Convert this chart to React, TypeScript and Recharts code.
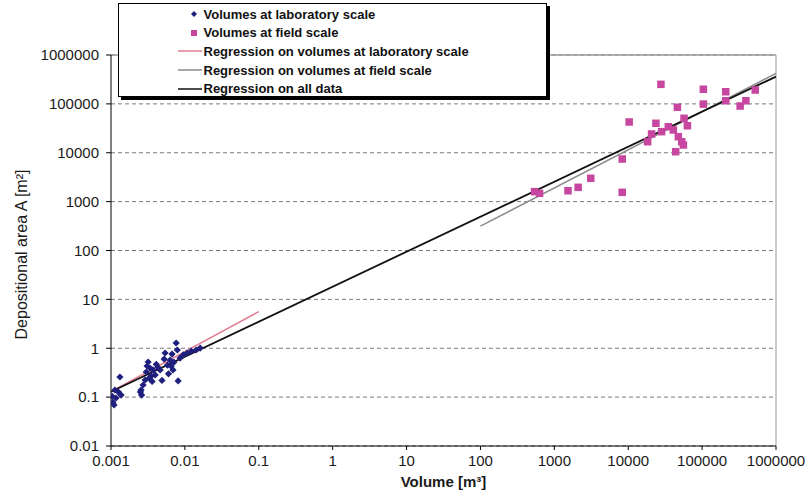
import React from "react";
import {
  ScatterChart,
  Scatter,
  XAxis,
  YAxis,
  CartesianGrid,
  ReferenceLine,
  Legend,
} from "recharts";

const xTicks = [0.001, 0.01, 0.1, 1, 10, 100, 1000, 10000, 100000, 1000000];
const yTicks = [0.01, 0.1, 1, 10, 100, 1000, 10000, 100000, 1000000];

const labVolumes = [
  0.00106, 0.0011, 0.00117, 0.00126, 0.00132, 0.00137, 0.00113, 0.00103,
  0.00255, 0.00272, 0.0029, 0.003, 0.00308, 0.00318, 0.0034, 0.0035, 0.0036,
  0.0037, 0.00396, 0.0041, 0.00462, 0.0049, 0.00524, 0.0054, 0.0058, 0.0063,
  0.0065, 0.0067, 0.0071, 0.00762, 0.0079, 0.0081, 0.0086, 0.0095, 0.0107,
  0.0122, 0.0142, 0.0161, 0.0043, 0.0033, 0.0026, 0.0025, 0.0069, 0.006,
];
const labAreas = [
  0.079, 0.069, 0.096, 0.127, 0.258, 0.11, 0.14, 0.105,
  0.14, 0.177, 0.224, 0.327, 0.433, 0.523, 0.39, 0.27, 0.21,
  0.36, 0.285, 0.47, 0.36, 0.22, 0.6, 0.8, 0.45, 0.57,
  0.43, 0.76, 0.52, 1.28, 0.92, 0.215, 0.63, 0.73, 0.8,
  0.87, 0.92, 1.01, 0.41, 0.245, 0.11, 0.127, 0.36, 0.3,
];

const fieldVolumes = [
  27700, 104000, 209000, 524000, 104000, 209000, 327000, 391000, 46300, 56900,
  63200, 10300, 23700, 34900, 40800, 28300, 20700, 18300, 47700, 53000,
  55800, 43900, 8300, 3110, 2100, 1530, 8300, 540, 631,
];
const fieldAreas = [
  251000, 199000, 177000, 192000, 99000, 116000, 90400, 116000, 85100, 50700,
  35700, 42600, 40100, 34100, 29200, 27000, 24200, 16800, 21300, 16800,
  14400, 10500, 7450, 3000, 1960, 1670, 1550, 1600, 1480,
];

const labRegressionX = [0.001, 0.1];
const labRegressionY = [0.13, 5.6];
const fieldRegressionX = [100, 1000000];
const fieldRegressionY = [316, 420000];
const allRegressionX = [0.001, 1000000];
const allRegressionY = [0.129, 360000];

const seriesNames = [
  "Volumes at laboratory scale",
  "Volumes at field scale",
  "Regression on volumes at laboratory scale",
  "Regression on volumes at field scale",
  "Regression on all data",
];

const LAB_COLOR = "#1f1f7d";
const FIELD_COLOR = "#c7469f";
const LAB_LINE = "#e27c90";
const FIELD_LINE = "#8a8a8a";
const ALL_LINE = "#111111";

const zip = (xs: number[], ys: number[]) => xs.map((x, i) => ({ x, y: ys[i] }));

const labData = zip(labVolumes, labAreas);
const fieldData = zip(fieldVolumes, fieldAreas);
const labReg = zip(labRegressionX, labRegressionY);
const fieldReg = zip(fieldRegressionX, fieldRegressionY);
const allReg = zip(allRegressionX, allRegressionY);

const FONT = "'Liberation Sans', Arial, sans-serif";

const Diamond = (props: any) => {
  const { cx, cy } = props;
  if (cx == null || cy == null) return null;
  const r = 3.6;
  return (
    <path
      d={`M${cx},${cy - r}L${cx + r},${cy}L${cx},${cy + r}L${cx - r},${cy}Z`}
      fill={LAB_COLOR}
    />
  );
};

const Square = (props: any) => {
  const { cx, cy } = props;
  if (cx == null || cy == null) return null;
  const s = 7.5;
  return <rect x={cx - s / 2} y={cy - s / 2} width={s} height={s} fill={FIELD_COLOR} />;
};

const NoShape = () => null;

const renderLegend = () => {
  const rowH = 18.6;
  const markers = [
    <svg width={24} height={10} key="m0">
      <path d="M16,2L19,5L16,8L13,5Z" fill={LAB_COLOR} />
    </svg>,
    <svg width={24} height={10} key="m1">
      <rect x={13} y={2} width={6} height={6} fill={FIELD_COLOR} />
    </svg>,
    <svg width={24} height={10} key="m2">
      <line x1={0} y1={5} x2={24} y2={5} stroke={LAB_LINE} strokeWidth={1.5} />
    </svg>,
    <svg width={24} height={10} key="m3">
      <line x1={0} y1={5} x2={24} y2={5} stroke={FIELD_LINE} strokeWidth={1.5} />
    </svg>,
    <svg width={24} height={10} key="m4">
      <line x1={0} y1={5} x2={24} y2={5} stroke={ALL_LINE} strokeWidth={1.5} />
    </svg>,
  ];
  return (
    <div
      style={{
        width: 429,
        height: 94,
        boxSizing: "border-box",
        border: "1.5px solid #000",
        boxShadow: "3px 3px 0 #000",
        background: "#fff",
        paddingTop: 1,
        fontFamily: FONT,
        fontWeight: "bold",
        fontSize: 13,
        color: "#111",
      }}
    >
      {seriesNames.map((n, i) => (
        <div
          key={n}
          style={{
            display: "flex",
            alignItems: "center",
            height: rowH,
            paddingLeft: 58.5,
            whiteSpace: "nowrap",
          }}
        >
          {markers[i]}
          <span style={{ marginLeft: 2 }}>{n}</span>
        </div>
      ))}
    </div>
  );
};

const fmt = (v: number) => String(v);

export default function App() {
  return (
    <div style={{ position: "absolute", left: 0, top: 0, width: 810, height: 496, background: "#fff" }}>
      <ScatterChart
        width={810}
        height={496}
        margin={{ top: 55, right: 34, bottom: 0, left: 0 }}
      >
        <CartesianGrid
          horizontal={true}
          vertical={false}
          stroke="#7a7a7a"
          strokeDasharray="4 3"
        />
        <XAxis
          type="number"
          dataKey="x"
          scale="log"
          domain={[0.001, 1000000]}
          ticks={xTicks}
          allowDataOverflow
          height={50}
          tickFormatter={fmt}
          axisLine={{ stroke: "#000", strokeWidth: 1 }}
          tickLine={{ stroke: "#000" }}
          tickSize={4}
          tickMargin={5}
          tick={{ fontSize: 15, fill: "#1a1a1a", fontFamily: FONT }}
          label={(p: any) => {
            const vb = p.viewBox;
            return (
              <text
                x={vb.x + vb.width / 2}
                y={487}
                textAnchor="middle"
                fontSize={15}
                fontWeight="bold"
                fontFamily={FONT}
                fill="#1a1a1a"
              >
                Volume [m³]
              </text>
            );
          }}
        />
        <YAxis
          type="number"
          dataKey="y"
          scale="log"
          domain={[0.01, 1000000]}
          ticks={yTicks}
          allowDataOverflow
          width={111}
          tickFormatter={fmt}
          axisLine={{ stroke: "#000", strokeWidth: 1 }}
          tickLine={{ stroke: "#000" }}
          tickSize={5}
          tickMargin={7}
          tick={{ fontSize: 15, fill: "#1a1a1a", fontFamily: FONT }}
          label={(p: any) => {
            const vb = p.viewBox;
            const cy = vb.y + vb.height / 2 + 4;
            return (
              <text
                x={21}
                y={cy}
                transform={`rotate(-90, 21, ${cy})`}
                textAnchor="middle"
                dominantBaseline="central"
                fontSize={16}
                fontFamily={FONT}
                fill="#1a1a1a"
              >
                Depositional area A [m²]
              </text>
            );
          }}
        />
        <ReferenceLine x={1000000} stroke="#bdbdbd" strokeWidth={1.5} />
        <ReferenceLine y={1000000} stroke="#9a9a9a" strokeWidth={1.5} />
        <Legend
          layout="vertical"
          verticalAlign="middle"
          align="center"
          content={renderLegend}
          wrapperStyle={{ left: 118, top: 3, width: 429, height: 94 }}
        />
        <Scatter
          name={seriesNames[2]}
          data={labReg}
          line={{ stroke: LAB_LINE, strokeWidth: 1.5 }}
          shape={NoShape}
          isAnimationActive={false}
        />
        <Scatter
          name={seriesNames[3]}
          data={fieldReg}
          line={{ stroke: FIELD_LINE, strokeWidth: 1.5 }}
          shape={NoShape}
          isAnimationActive={false}
        />
        <Scatter
          name={seriesNames[4]}
          data={allReg}
          line={{ stroke: ALL_LINE, strokeWidth: 1.8 }}
          shape={NoShape}
          isAnimationActive={false}
        />
        <Scatter
          name={seriesNames[0]}
          data={labData}
          shape={Diamond}
          isAnimationActive={false}
        />
        <Scatter
          name={seriesNames[1]}
          data={fieldData}
          shape={Square}
          isAnimationActive={false}
        />
      </ScatterChart>
    </div>
  );
}
